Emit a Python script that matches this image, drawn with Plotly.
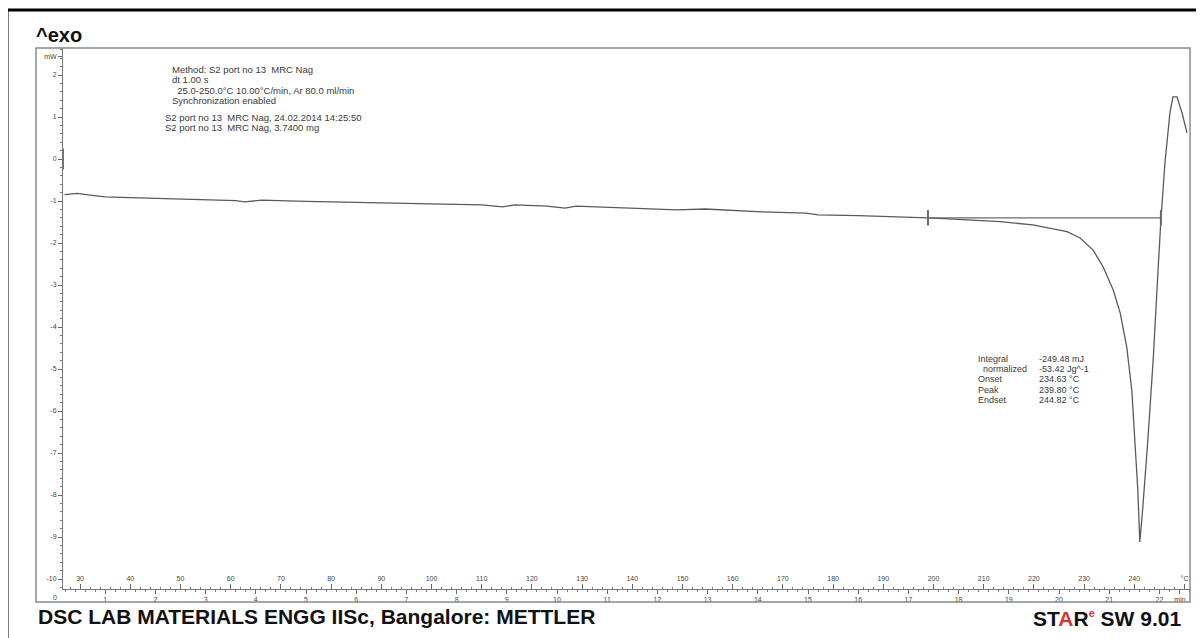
import plotly.graph_objects as go

# ---------------- data ----------------
time_min = [0.19, 0.30, 0.44, 0.70, 1.00, 1.50, 1.89, 2.80, 3.60, 3.78, 4.12, 5.00,
            6.25, 7.00, 7.93, 8.50, 8.92, 9.16, 9.80, 10.16, 10.38, 11.50, 12.39,
            12.95, 13.50, 14.08, 14.96, 15.20, 16.00, 16.63, 17.39, 17.90, 18.42,
            18.82, 19.48, 20.16, 20.42, 20.68, 20.88, 21.08, 21.22, 21.35, 21.45,
            21.51, 21.57, 21.61, 21.67, 21.77, 21.88, 21.97, 22.03, 22.11, 22.21,
            22.27, 22.35, 22.45, 22.55]
heat_flow_mw = [-0.85, -0.84, -0.82, -0.86, -0.90, -0.92, -0.93, -0.96, -0.99, -1.02,
                -0.98, -1.01, -1.04, -1.05, -1.07, -1.09, -1.14, -1.09, -1.12, -1.17,
                -1.12, -1.17, -1.21, -1.19, -1.23, -1.26, -1.29, -1.33, -1.35, -1.37,
                -1.40, -1.43, -1.46, -1.49, -1.57, -1.73, -1.88, -2.17, -2.57, -3.12,
                -3.67, -4.48, -5.50, -6.69, -7.88, -9.12, -8.29, -6.69, -4.71, -2.71,
                -1.45, -0.10, 1.10, 1.48, 1.48, 1.10, 0.62]

start_t = [0.165, 0.165]
start_v = [0.25, -0.25]

baseline_t = [17.39, 22.03]
baseline_v = [-1.40, -1.40]

y_tickvals = [2.43, 2, 1, 0, -1, -2, -3, -4, -5, -6, -7, -8, -9, -10]
y_ticktext = ["mW", "2", "1", '<span style="color:#c03030">0</span>', "-1", "-2", "-3",
              "-4", "-5", "-6", "-7", "-8", "-9", "-10"]
min_tickvals = list(range(1, 23)) + [22.41]
min_ticktext = [str(v) for v in range(1, 23)] + ["min"]
temp_tickvals = [30, 40, 50, 60, 70, 80, 90, 100, 110, 120, 130, 140, 150, 160, 170,
                 180, 190, 200, 210, 220, 230, 240, 250]
temp_ticktext = [str(v) for v in temp_tickvals[:-1]] + ["°C"]

method_lines = ["Method: S2 port no 13  MRC Nag",
                "dt 1.00 s",
                "  25.0-250.0°C 10.00°C/min, Ar 80.0 ml/min",
                "Synchronization enabled"]
sample_lines = ["S2 port no 13  MRC Nag, 24.02.2014 14:25:50",
                "S2 port no 13  MRC Nag, 3.7400 mg"]
result_labels = ["Integral", "  normalized", "Onset", "Peak", "Endset"]
result_values = ["-249.48 mJ", "-53.42 Jg^-1", "234.63 °C", "239.80 °C", "244.82 °C"]

# ---------------- geometry helpers (screen pixels; page body has 8px margin) ----------------
OFF = 8
W, H = 1204 - OFF, 638 - OFF
SL, SR, ST, SB = 63, 1190, 48, 589            # plot area in screen pixels
L, R, T, B = SL - OFF, SR - OFF, ST - OFF, SB - OFF
T0, PXMIN = 55.0, 50.2                         # screen pixel of t=0, pixels per minute
X_RANGE = [(SL - T0) / PXMIN, (SR - T0) / PXMIN]
Y_RANGE = [2 - (SB - 75) / 42.0, 2 - (ST - 75) / 42.0]


def px(x):
    return (x - SL) / (SR - SL)


def py(y):
    return (SB - y) / (SB - ST)


FONT = "Liberation Sans, Arial, sans-serif"
CURVE = "#5a5a5a"

fig = go.Figure()
fig.add_trace(go.Scatter(x=time_min, y=heat_flow_mw, mode="lines",
                         line=dict(color=CURVE, width=1.3), hoverinfo="skip",
                         showlegend=False))
fig.add_trace(go.Scatter(x=start_t, y=start_v, mode="lines",
                         line=dict(color="#c04040", width=1.3), hoverinfo="skip",
                         showlegend=False))
fig.add_trace(go.Scatter(x=baseline_t, y=baseline_v, mode="lines+markers",
                         line=dict(color="#6a6a6a", width=1.2),
                         marker=dict(symbol="line-ns-open", size=11,
                                     line=dict(color="#333333", width=2)),
                         hoverinfo="skip", showlegend=False))
# invisible trace on the temperature axis so it is rendered
fig.add_trace(go.Scatter(x=[temp_tickvals[0]], y=[heat_flow_mw[0]], xaxis="x2",
                         mode="markers", marker=dict(opacity=0), hoverinfo="skip",
                         showlegend=False))

tickfont = dict(family=FONT, size=7, color="#444444")
fig.update_layout(
    width=W, height=H,
    margin=dict(l=L, r=W - R, t=T, b=H - B, autoexpand=False),
    paper_bgcolor="white", plot_bgcolor="white",
    showlegend=False,
    xaxis=dict(range=X_RANGE, tickmode="array", tickvals=min_tickvals,
               ticktext=min_ticktext, ticks="outside", ticklen=4, tickwidth=1,
               tickcolor="#666666", showline=True, linecolor="#777777", linewidth=1,
               showgrid=False, zeroline=False, tickfont=tickfont, automargin=False,
               minor=dict(ticks="outside", dtick=0.2, tick0=0, ticklen=2,
                          tickcolor="#777777", showgrid=False)),
    xaxis2=dict(range=[25 + 10 * X_RANGE[0], 25 + 10 * X_RANGE[1]], overlaying="x",
                anchor="free", position=0, side="top", tickmode="array",
                tickvals=temp_tickvals, ticktext=temp_ticktext, ticks="outside",
                ticklen=5, tickcolor="#666666", showline=False, showgrid=False,
                zeroline=False, tickfont=tickfont, automargin=False,
                minor=dict(ticks="outside", dtick=2, tick0=0, ticklen=2,
                           tickcolor="#777777", showgrid=False)),
    yaxis=dict(range=Y_RANGE, tickmode="array", tickvals=y_tickvals,
               ticktext=y_ticktext, ticks="outside", ticklen=4, tickcolor="#666666",
               showline=True, linecolor="#777777", linewidth=1, showgrid=False,
               zeroline=False, tickfont=tickfont, automargin=False,
               minor=dict(ticks="outside", dtick=0.2, tick0=0, ticklen=2,
                          tickcolor="#777777", showgrid=False)),
)

shapes = [
    # outer black frame
    dict(type="rect", xref="paper", yref="paper", x0=px(7), x1=px(1230),
         y0=py(670), y1=py(10), line=dict(color="black", width=3)),
    # inner gray frame
    dict(type="rect", xref="paper", yref="paper", x0=px(36), x1=px(1190),
         y0=py(602), y1=py(48), line=dict(color="#8a8a8a", width=1.5)),
]
fig.update_layout(shapes=shapes)

ann = []
small = dict(family=FONT, size=9.5, color="#3a3a3a")
res = dict(family=FONT, size=9, color="#3a3a3a")
ann.append(dict(text="^exo", x=px(34), y=py(35), xref="paper", yref="paper",
                xanchor="left", yanchor="middle", showarrow=False,
                font=dict(family=FONT, size=20, color="#111111", weight="bold")))
ann.append(dict(text="0", x=px(55), y=py(597), xref="paper", yref="paper",
                xanchor="center", yanchor="middle", showarrow=False, font=tickfont))
for i, line in enumerate(method_lines):
    ann.append(dict(text=line.replace("  ", "&nbsp;&nbsp;"), x=px(170), y=py(70 + 10 * i),
                    xref="paper", yref="paper", xanchor="left", yanchor="middle",
                    showarrow=False, font=small))
for i, line in enumerate(sample_lines):
    ann.append(dict(text=line, x=px(163), y=py(118 + 10 * i), xref="paper",
                    yref="paper", xanchor="left", yanchor="middle", showarrow=False,
                    font=small))
for i, (lab, val) in enumerate(zip(result_labels, result_values)):
    ann.append(dict(text=lab.replace("  ", "&nbsp;&nbsp;"), x=px(976), y=py(359 + 10.2 * i),
                    xref="paper", yref="paper", xanchor="left", yanchor="middle",
                    showarrow=False, font=res))
    ann.append(dict(text=val, x=px(1037), y=py(359 + 10.2 * i), xref="paper",
                    yref="paper", xanchor="left", yanchor="middle", showarrow=False,
                    font=res))
ann.append(dict(text="DSC LAB MATERIALS ENGG IISc, Bangalore: METTLER", x=px(36),
                y=py(616), xref="paper", yref="paper", xanchor="left",
                yanchor="middle", showarrow=False,
                font=dict(family=FONT, size=21, color="#111111", weight="bold")))
ann.append(dict(text='ST<span style="color:#d23a3a">A</span>R'
                     '<sup><span style="color:#d23a3a;font-size:11px">e</span></sup> SW 9.01',
                x=px(1183), y=py(632), xref="paper", yref="paper", xanchor="right",
                yanchor="bottom", showarrow=False,
                font=dict(family=FONT, size=21, color="#111111", weight="bold")))
fig.update_layout(annotations=ann)

fig.write_html("out.html")
